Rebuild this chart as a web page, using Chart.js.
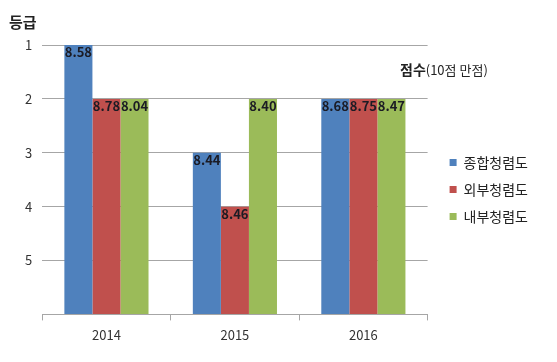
<!DOCTYPE html>
<html>
<head>
<meta charset="utf-8">
<script src="https://cdn.jsdelivr.net/npm/chart.js@4.4.1/dist/chart.umd.min.js"></script>
<style>
  html, body { margin: 0; padding: 0; background: #fff; }
  #wrap { width: 557px; height: 362px; }
</style>
</head>
<body>
<div id="wrap"><canvas id="chartGrade"></canvas></div>
<script>
// years and series
const years = ["2014", "2015", "2016"];
const seriesNames = ["종합청렴도", "외부청렴도", "내부청렴도"];

// grade (등급) of each bar, 1 = best
const gradeTotal = [1, 3, 2];
const gradeExternal = [2, 4, 2];
const gradeInternal = [2, 2, 2];

// score printed on each bar (10점 만점)
const scoreTotal = [8.58, 8.44, 8.68];
const scoreExternal = [8.78, 8.46, 8.75];
const scoreInternal = [8.04, 8.40, 8.47];

const gradeTicks = [1, 2, 3, 4, 5];
const gradeFloor = 6;

const FONT = "'Noto Sans CJK KR', 'Noto Sans', sans-serif";

// score labels at the top of each bar + the two axis notes
const scoreLabels = {
    id: "scoreLabels",
    afterDatasetsDraw(chart) {
        const ctx = chart.ctx;
        ctx.save();
        ctx.font = "bold 13px " + FONT;
        ctx.fillStyle = "#1b1b24";
        ctx.textAlign = "center";
        ctx.textBaseline = "top";
        chart.data.datasets.forEach(function (ds, i) {
            chart.getDatasetMeta(i).data.forEach(function (bar, j) {
                const top = Math.min(bar.y, bar.base);
                ctx.fillText(ds.scores[j].toFixed(2), bar.x, top + 1);
            });
        });

        ctx.textAlign = "left";
        ctx.textBaseline = "middle";
        ctx.fillStyle = "#222";
        ctx.font = "bold 15px " + FONT;
        ctx.fillText("등급", 9, 22);

        ctx.font = "bold 14px " + FONT;
        ctx.fillText("점수", 400, 70);
        const w = ctx.measureText("점수").width;
        ctx.font = "13px " + FONT;
        ctx.fillText("(10점 만점)", 400 + w, 70);
        ctx.restore();
    }
};

// nudge the legend a bit away from the plot, like the original
const legendShift = {
    id: "legendShift",
    afterLayout(chart) {
        chart.legend.left += 9;
        chart.legend.right += 9;
        chart.legend.top -= 8;
        chart.legend.bottom -= 8;
    }
};

document.addEventListener("DOMContentLoaded", function () {
    const ctx = document.getElementById("chartGrade");
    if (!ctx) return;

    new Chart(ctx, {
        type: "bar",
        data: {
            labels: years,
            datasets: [{
                label: seriesNames[0],
                data: gradeTotal,
                scores: scoreTotal,
                backgroundColor: "#4f81bd"
            }, {
                label: seriesNames[1],
                data: gradeExternal,
                scores: scoreExternal,
                backgroundColor: "#c0504d"
            }, {
                label: seriesNames[2],
                data: gradeInternal,
                scores: scoreInternal,
                backgroundColor: "#9bbb59"
            }]
        },
        options: {
            responsive: true,
            maintainAspectRatio: false,
            animation: false,
            datasets: {
                bar: {
                    base: gradeFloor,
                    categoryPercentage: 0.655,
                    barPercentage: 1.0
                }
            },
            layout: {
                padding: { left: 15, right: 28, top: 45, bottom: 12 }
            },
            scales: {
                x: {
                    grid: {
                        drawOnChartArea: false,
                        offset: true,
                        tickLength: 6,
                        color: "#a6a6a6"
                    },
                    border: { color: "#a6a6a6" },
                    ticks: {
                        padding: 7,
                        color: "#333",
                        font: { family: FONT, size: 13 }
                    }
                },
                y: {
                    reverse: true,
                    min: 1,
                    max: gradeFloor,
                    border: { display: false },
                    grid: { color: "#a6a6a6", drawTicks: false },
                    ticks: {
                        stepSize: 1,
                        padding: 10,
                        color: "#333",
                        font: { family: FONT, size: 13 },
                        callback: function (v) {
                            return gradeTicks.includes(v) ? v : "";
                        }
                    }
                }
            },
            plugins: {
                legend: {
                    position: "right",
                    labels: {
                        boxWidth: 7,
                        boxHeight: 7,
                        padding: 13,
                        color: "#222",
                        font: { family: FONT, size: 14 }
                    }
                },
                tooltip: { enabled: false }
            }
        },
        plugins: [scoreLabels, legendShift]
    });
});
</script>
</body>
</html>
